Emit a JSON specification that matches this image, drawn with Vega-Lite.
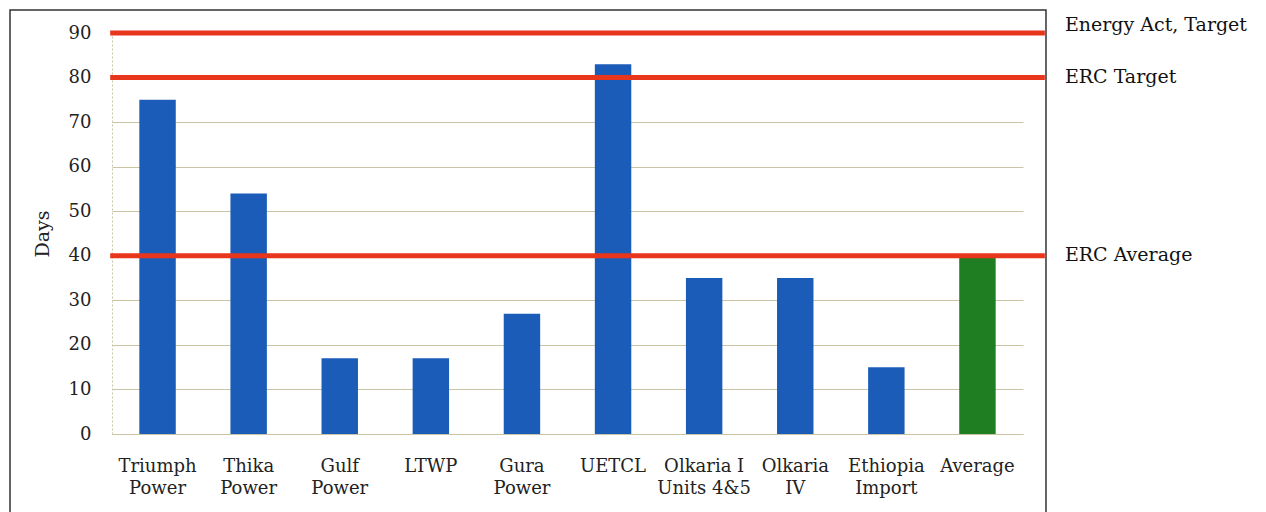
{
  "$schema": "https://vega.github.io/schema/vega-lite/v6.json",
  "width": 911,
  "height": 401,
  "autosize": "none",
  "padding": {"left": 112, "top": 33, "right": 243, "bottom": 78},
  "background": "white",
  "config": {"view": {"stroke": null}, "font": "DejaVu Serif"},
  "datasets": {
    "bars": [
      {"plant": "Triumph Power", "days": 75, "kind": "Plant"},
      {"plant": "Thika Power", "days": 54, "kind": "Plant"},
      {"plant": "Gulf Power", "days": 17, "kind": "Plant"},
      {"plant": "LTWP", "days": 17, "kind": "Plant"},
      {"plant": "Gura Power", "days": 27, "kind": "Plant"},
      {"plant": "UETCL", "days": 83, "kind": "Plant"},
      {"plant": "Olkaria I Units 4&5", "days": 35, "kind": "Plant"},
      {"plant": "Olkaria IV", "days": 35, "kind": "Plant"},
      {"plant": "Ethiopia Import", "days": 15, "kind": "Plant"},
      {"plant": "Average", "days": 40, "kind": "Average"}
    ],
    "targets": [
      {"label": "Energy Act, Target", "days": 90},
      {"label": "ERC Target", "days": 80},
      {"label": "ERC Average", "days": 40}
    ]
  },
  "layer": [
    {
      "data": {"name": "bars"},
      "mark": {"type": "bar"},
      "encoding": {
        "x": {
          "field": "plant",
          "type": "nominal",
          "sort": null,
          "scale": {"paddingInner": 0.6, "paddingOuter": 0.3},
          "axis": {
            "title": null,
            "labelAngle": 0,
            "labelFontSize": 18,
            "labelLineHeight": 22,
            "labelColor": "#222222",
            "labelPadding": 23,
            "labelBaseline": "top",
            "ticks": false,
            "domainColor": "#c9c4a4",
            "labelExpr": "datum.label == 'Olkaria I Units 4&5' ? ['Olkaria I', 'Units 4&5'] : split(datum.label, ' ')"
          }
        },
        "y": {
          "field": "days",
          "type": "quantitative",
          "scale": {"domain": [0, 90], "nice": false},
          "axis": {
            "title": "Days",
            "titleFontSize": 19,
            "titleFontWeight": "normal",
            "titleColor": "#222222",
            "titlePadding": 16,
            "values": [0, 10, 20, 30, 40, 50, 60, 70, 80, 90],
            "labelFontSize": 18,
            "labelColor": "#222222",
            "labelPadding": 21,
            "ticks": false,
            "gridColor": "#c9c4a4",
            "gridWidth": 1,
            "domainColor": "#c9c4a4",
            "domainDash": [2, 2]
          }
        },
        "color": {
          "field": "kind",
          "type": "nominal",
          "scale": {"domain": ["Plant", "Average"], "range": ["#1b5cb8", "#1f7d22"]},
          "legend": null
        }
      }
    },
    {
      "data": {"name": "targets"},
      "mark": {"type": "rule", "color": "#e8361c", "strokeWidth": 5, "clip": false},
      "encoding": {
        "y": {"field": "days", "type": "quantitative"},
        "x": {"datum": "Triumph Power", "type": "nominal", "bandPosition": -0.8},
        "x2": {"datum": "Average", "bandPosition": 2.35}
      }
    },
    {
      "data": {"name": "targets"},
      "transform": [{"filter": "datum.days == 90"}],
      "mark": {"type": "text", "align": "left", "baseline": "middle", "fontSize": 19, "color": "#111111", "dy": -8, "clip": false},
      "encoding": {
        "y": {"field": "days", "type": "quantitative"},
        "x": {"datum": "Average", "type": "nominal", "bandPosition": 2.9},
        "text": {"field": "label"}
      }
    },
    {
      "data": {"name": "targets"},
      "transform": [{"filter": "datum.days < 90"}],
      "mark": {"type": "text", "align": "left", "baseline": "middle", "fontSize": 19, "color": "#111111", "dy": -1, "clip": false},
      "encoding": {
        "y": {"field": "days", "type": "quantitative"},
        "x": {"datum": "Average", "type": "nominal", "bandPosition": 2.9},
        "text": {"field": "label"}
      }
    },
    {
      "data": {"values": [{"box": "frame"}]},
      "mark": {"type": "rect", "fill": null, "stroke": "#333333", "strokeWidth": 1.5, "clip": false},
      "encoding": {
        "x": {"datum": "Triumph Power", "type": "nominal", "bandPosition": -3.549},
        "x2": {"datum": "Average", "bandPosition": 2.381},
        "y": {"datum": 95.16, "type": "quantitative"},
        "y2": {"datum": -18}
      }
    }
  ]
}
